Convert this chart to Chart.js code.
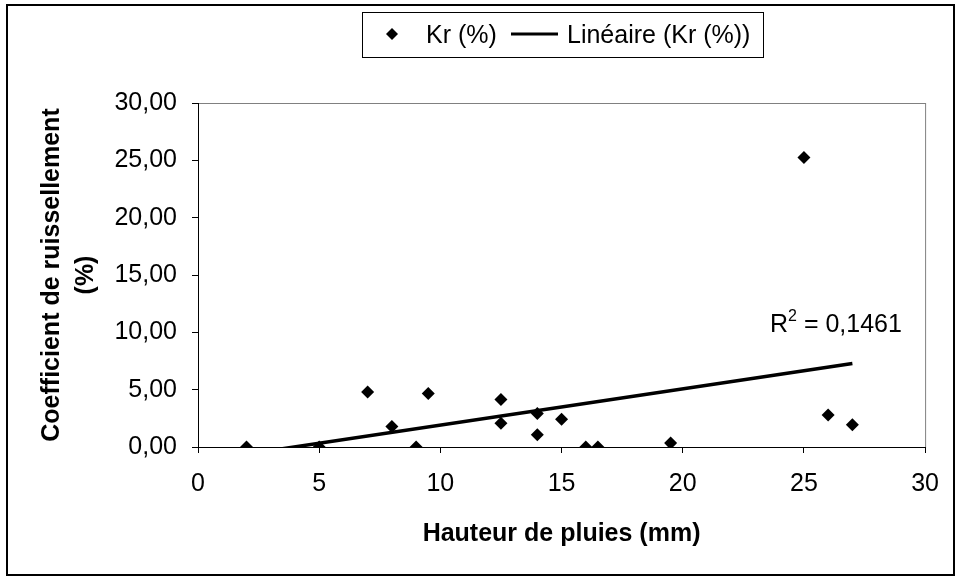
<!DOCTYPE html>
<html lang="fr">
<head>
  <meta charset="UTF-8" />
  <title>Coefficient de ruissellement</title>
  <script src="https://cdn.jsdelivr.net/npm/chart.js@4"></script>
</head>
<body style="margin: 0; padding: 0; background-color: white;">

<div style="width: 955px; height: 576px;">
  <canvas id="krChart" width="955" height="576"></canvas>
</div>

<script>
  // hauteur de pluie (mm) et coefficient de ruissellement Kr (%)
  const hauteur = [2, 5, 7, 8, 9, 9.5, 12.5, 12.5, 14, 14, 15, 16, 16.5, 19.5, 25, 26, 27];
  const kr = [0, 0, 4.8, 1.78, 0, 4.66, 4.14, 2.07, 2.93, 1.06, 2.41, 0, 0, 0.34, 25.25, 2.79, 1.93];

  // courbe de tendance linéaire (extrémités)
  const trendX = [2, 27];
  const trendY = [-0.62, 7.29];

  const xTickLabels = ['0', '5', '10', '15', '20', '25', '30'];
  const yTickLabels = ['0,00', '5,00', '10,00', '15,00', '20,00', '25,00', '30,00'];

  const serieNom = 'Kr (%)';
  const tendanceNom = 'Linéaire (Kr (%))';
  const r2Valeur = '0,1461';

  const police = "'Liberation Sans', Arial, sans-serif";

  const decor = {
    id: 'decor',
    beforeDraw(chart) {
      const ctx = chart.ctx;
      const a = chart.chartArea;
      ctx.save();
      ctx.fillStyle = 'white';
      ctx.fillRect(0, 0, chart.width, chart.height);
      // cadre extérieur
      ctx.strokeStyle = 'black';
      ctx.lineWidth = 2;
      ctx.strokeRect(7, 5, 947, 570);
      // zone de traçage
      ctx.strokeStyle = '#808080';
      ctx.lineWidth = 1;
      ctx.strokeRect(a.left + 0.5, a.top + 0.5, a.right - a.left, a.bottom - a.top);
      ctx.restore();
    },
    afterDraw(chart) {
      const ctx = chart.ctx;
      const a = chart.chartArea;
      const xs = chart.scales.x;
      const ys = chart.scales.y;
      ctx.save();
      ctx.fillStyle = 'black';

      // titres des axes
      ctx.font = 'bold 25px ' + police;
      ctx.textAlign = 'center';
      ctx.textBaseline = 'middle';
      ctx.fillText('Hauteur de pluies (mm)', (a.left + a.right) / 2, 534);
      ctx.save();
      ctx.translate(52, (a.top + a.bottom) / 2);
      ctx.rotate(-Math.PI / 2);
      ctx.fillText('Coefficient de ruissellement', 0, 0);
      ctx.restore();
      ctx.save();
      ctx.translate(86, (a.top + a.bottom) / 2);
      ctx.rotate(-Math.PI / 2);
      ctx.fillText('(%)', 0, 0);
      ctx.restore();

      // légende
      ctx.strokeStyle = 'black';
      ctx.lineWidth = 1;
      ctx.strokeRect(362.5, 12.5, 401, 45);
      ctx.beginPath();
      ctx.moveTo(386, 34);
      ctx.lineTo(392, 28);
      ctx.lineTo(398, 34);
      ctx.lineTo(392, 40);
      ctx.closePath();
      ctx.fill();
      ctx.font = '25px ' + police;
      ctx.textAlign = 'left';
      ctx.textBaseline = 'alphabetic';
      ctx.fillText(serieNom, 426, 43);
      ctx.lineWidth = 3;
      ctx.beginPath();
      ctx.moveTo(511, 34);
      ctx.lineTo(558, 34);
      ctx.stroke();
      ctx.fillText(tendanceNom, 567, 43);

      // R²
      const rx = xs.getPixelForValue(23.6);
      const ry = ys.getPixelForValue(10.8) + 9;
      ctx.fillText('R', rx, ry);
      const wR = ctx.measureText('R').width;
      ctx.font = '16px ' + police;
      ctx.fillText('2', rx + wR, ry - 11);
      const w2 = ctx.measureText('2').width;
      ctx.font = '25px ' + police;
      ctx.fillText(' = ' + r2Valeur, rx + wR + w2, ry);
      ctx.restore();
    }
  };

  const ctx = document.getElementById('krChart').getContext('2d');

  const chart = new Chart(ctx, {
    type: 'scatter',
    data: {
      datasets: [
        {
          label: serieNom,
          data: hauteur.map((h, i) => ({ x: h, y: kr[i] })),
          pointStyle: 'rectRot',
          pointRadius: 6.5,
          backgroundColor: 'black',
          borderColor: 'black',
          borderWidth: 0
        },
        {
          label: tendanceNom,
          data: trendX.map((h, i) => ({ x: h, y: trendY[i] })),
          showLine: true,
          pointRadius: 0,
          borderColor: 'black',
          borderWidth: 3.5,
          clip: 0
        }
      ]
    },
    options: {
      responsive: false,
      animation: false,
      layout: {
        padding: { left: 8, top: 103, right: 24, bottom: 0 }
      },
      plugins: {
        legend: { display: false },
        tooltip: { enabled: false }
      },
      scales: {
        x: {
          type: 'linear',
          position: 'bottom',
          min: 0,
          max: 30,
          afterFit: (scale) => { scale.height = 129; },
          ticks: {
            stepSize: 5,
            color: 'black',
            padding: 16,
            font: { family: police, size: 25 },
            callback: (v, i) => xTickLabels[i]
          },
          grid: { drawOnChartArea: false, drawTicks: true, tickLength: 6, color: 'black' },
          border: { display: true, color: 'black', width: 1 }
        },
        y: {
          min: 0,
          max: 30,
          afterFit: (scale) => { scale.width = 190; },
          ticks: {
            stepSize: 5,
            color: 'black',
            padding: 15,
            font: { family: police, size: 25 },
            callback: (v, i) => yTickLabels[i]
          },
          grid: { drawOnChartArea: false, drawTicks: true, tickLength: 6, color: 'black' },
          border: { display: true, color: 'black', width: 1 }
        }
      }
    },
    plugins: [decor]
  });
</script>
</body>
</html>
